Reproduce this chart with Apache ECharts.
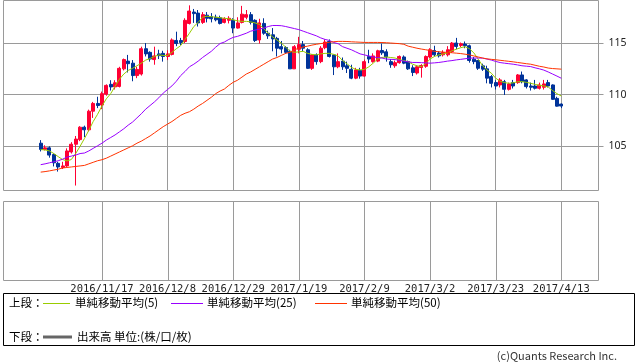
<!DOCTYPE html>
<html><head><meta charset="utf-8">
<script src="https://cdn.jsdelivr.net/npm/echarts@6/dist/echarts.min.js"></script>
<style>html,body{margin:0;padding:0;background:#fff}#c{width:638px;height:362px}</style>
</head><body><div id="c"></div>
<script>
const dates = ['2016/10/28',
'2016/10/31','2016/11/1','2016/11/2','2016/11/3','2016/11/4',
'2016/11/7','2016/11/8','2016/11/9','2016/11/10','2016/11/11',
'2016/11/14','2016/11/15','2016/11/16','2016/11/17','2016/11/18',
'2016/11/21','2016/11/22','2016/11/23','2016/11/24','2016/11/25',
'2016/11/28','2016/11/29','2016/11/30','2016/12/1','2016/12/2',
'2016/12/5','2016/12/6','2016/12/7','2016/12/8','2016/12/9',
'2016/12/12','2016/12/13','2016/12/14','2016/12/15','2016/12/16',
'2016/12/19','2016/12/20','2016/12/21','2016/12/22','2016/12/23',
'2016/12/26','2016/12/27','2016/12/28','2016/12/29','2016/12/30',
'2017/1/2','2017/1/3','2017/1/4','2017/1/5','2017/1/6',
'2017/1/9','2017/1/10','2017/1/11','2017/1/12','2017/1/13',
'2017/1/16','2017/1/17','2017/1/18','2017/1/19','2017/1/20',
'2017/1/23','2017/1/24','2017/1/25','2017/1/26','2017/1/27',
'2017/1/30','2017/1/31','2017/2/1','2017/2/2','2017/2/3',
'2017/2/6','2017/2/7','2017/2/8','2017/2/9','2017/2/10',
'2017/2/13','2017/2/14','2017/2/15','2017/2/16','2017/2/17',
'2017/2/20','2017/2/21','2017/2/22','2017/2/23','2017/2/24',
'2017/2/27','2017/2/28','2017/3/1','2017/3/2','2017/3/3',
'2017/3/6','2017/3/7','2017/3/8','2017/3/9','2017/3/10',
'2017/3/13','2017/3/14','2017/3/15','2017/3/16','2017/3/17',
'2017/3/20','2017/3/21','2017/3/22','2017/3/23','2017/3/24',
'2017/3/27','2017/3/28','2017/3/29','2017/3/30','2017/3/31',
'2017/4/3','2017/4/4','2017/4/5','2017/4/6','2017/4/7',
'2017/4/10','2017/4/11','2017/4/12','2017/4/13'];

const tickDates = ['2016/11/17','2016/12/8','2016/12/29','2017/1/19','2017/2/9','2017/3/2','2017/3/23','2017/4/13'];
const yTicks = [105, 110, 115];

const opens = [105.3,104.7,104.85,104.2,103.35,102.95,103.1,104.45,105.2,105.65,
106.85,106.6,108.4,109.15,109.0,110.05,111.0,110.75,110.8,112.5,
113.25,113.05,111.85,112.0,114.45,114.1,113.4,113.95,114.0,113.7,
113.9,115.25,115.25,115.15,116.9,118.0,117.9,117.0,117.7,117.55,
117.5,117.45,117.0,117.2,117.2,116.45,117.0,117.5,117.75,117.2,
115.3,116.9,115.95,115.8,115.45,114.65,114.57,114.2,112.5,114.4,
114.85,114.35,112.55,113.85,113.2,114.55,115.15,113.85,112.7,113.25,
112.8,112.45,111.6,112.35,111.8,113.7,113.2,113.25,114.28,114.15,
113.2,112.8,113.1,113.65,113.2,112.6,112.1,112.63,112.75,113.65,
114.28,114.03,113.86,113.86,114.18,115.0,114.77,114.9,114.74,113.44,
113.31,112.79,112.5,111.75,111.17,110.94,111.26,110.52,111.17,111.17,
111.91,111.43,110.84,110.84,110.62,110.72,111.17,110.94,109.64,109.09];

const closes = [104.7,104.85,104.15,103.4,103.0,103.1,104.55,105.2,105.7,106.85,
106.6,108.4,109.15,108.95,110.1,110.9,110.75,111.15,112.55,113.4,
113.0,111.85,112.45,114.45,113.95,113.45,113.75,113.78,113.7,113.95,
115.3,114.95,115.05,117.2,118.1,117.85,116.95,117.75,117.4,117.35,
117.25,116.9,117.35,117.4,116.45,116.95,117.8,117.75,117.0,115.25,
116.95,115.95,115.7,115.4,114.5,114.42,114.1,112.5,114.65,114.85,
114.5,112.55,113.85,113.2,114.5,115.1,113.7,112.7,113.2,112.7,
112.55,111.6,112.4,111.8,113.2,113.45,113.75,114.25,114.05,113.65,
112.9,113.1,113.7,113.05,112.5,112.15,112.7,112.82,113.7,114.35,
113.86,113.76,114.09,114.35,115.0,114.67,114.93,114.74,113.31,113.2,
112.56,112.47,111.6,111.1,110.84,111.43,110.52,111.04,110.84,111.91,
111.26,110.78,110.72,110.62,110.94,111.04,110.84,109.55,108.89,108.9];

const lows = [104.5,104.6,103.9,103.05,102.55,102.8,103.0,104.3,101.2,105.5,
105.9,106.45,107.75,108.7,108.6,109.9,110.4,110.5,110.7,112.35,
112.15,111.3,111.6,111.85,113.7,113.2,112.9,113.45,113.2,113.35,
113.8,114.7,114.8,115.0,116.8,116.95,116.6,116.85,117.0,117.0,
117.1,116.8,116.9,116.9,115.95,116.4,116.9,117.3,116.8,115.1,
114.95,115.8,115.4,114.2,113.7,114.0,113.95,112.5,112.5,114.0,
114.2,112.5,112.4,112.9,113.05,114.4,113.6,111.9,112.56,112.4,
112.1,111.5,111.5,111.55,111.75,113.05,113.1,113.15,113.85,113.2,
112.6,112.6,113.0,112.95,112.4,111.8,111.95,111.65,112.6,113.5,
113.7,113.6,113.7,113.7,114.05,114.4,114.6,114.5,113.1,112.95,
112.4,112.3,111.1,110.7,110.5,110.7,109.97,110.4,110.6,111.05,
111.1,110.6,110.4,110.5,110.5,110.5,110.7,109.5,108.85,108.7];

const highs = [105.6,105.1,105.0,104.3,103.5,103.5,104.8,105.4,106.0,106.95,
107.0,108.55,109.3,109.8,110.3,111.0,111.4,111.4,112.7,113.5,
113.85,113.35,112.7,114.65,115.0,114.2,114.65,114.35,114.25,114.3,
115.45,116.1,115.5,117.4,118.65,118.3,118.2,118.0,118.0,117.9,
117.75,117.65,117.5,117.6,117.4,117.5,118.6,118.2,118.0,117.3,
117.35,117.4,116.2,116.45,115.6,115.2,114.7,114.35,114.8,115.6,
115.2,114.5,113.9,114.0,114.7,115.35,115.35,113.85,114.0,113.6,
113.2,112.9,112.6,112.6,113.4,114.35,114.0,114.35,114.95,114.4,
113.45,113.3,113.8,113.8,113.3,112.85,112.85,112.95,113.8,114.5,
114.74,114.2,114.3,114.7,115.1,115.5,115.05,115.15,114.85,113.65,
113.37,113.0,112.8,111.9,111.4,111.6,111.43,111.17,111.43,112.0,
112.24,111.5,111.17,111.43,111.17,111.43,111.43,111.0,109.8,109.15];

const ma5 = [104.68,104.65,104.55,104.3,104.0,103.72,103.58,103.72,104.3,105.0,
105.75,106.55,107.4,108.1,108.9,109.6,110.1,110.8,111.5,112.0,
112.35,112.55,112.8,113.05,113.35,113.5,113.7,113.85,113.8,113.8,
114.1,114.45,114.75,115.35,115.95,116.6,117.0,117.5,117.6,117.55,
117.5,117.45,117.4,117.35,117.25,117.15,117.1,117.1,117.05,116.95,
116.8,116.4,115.95,115.6,115.3,115.0,114.6,114.2,114.1,114.15,
114.2,114.0,113.9,113.85,113.95,114.0,114.0,113.9,113.75,113.3,
113.0,112.65,112.45,112.4,112.45,112.7,113.05,113.45,113.6,113.65,
113.6,113.55,113.4,113.3,113.2,112.95,112.8,112.72,113.0,113.45,
113.7,113.85,113.95,114.05,114.25,114.4,114.55,114.65,114.45,114.05,
113.45,112.8,112.4,112.08,111.6,111.3,111.17,111.1,111.15,111.25,
111.26,111.2,111.1,111.0,110.9,110.85,110.75,110.4,110.1,109.87];

const ma25 = [103.22,103.3,103.4,103.5,103.6,103.75,103.95,104.05,104.15,104.3,
104.35,104.55,104.8,105.05,105.3,105.6,105.85,106.1,106.4,106.7,
107.05,107.35,107.75,108.15,108.6,108.95,109.3,109.7,110.15,110.5,
110.85,111.3,111.85,112.25,112.7,112.95,113.25,113.6,113.9,114.2,
114.6,114.95,115.1,115.35,115.55,115.65,115.8,115.95,116.15,116.25,
116.35,116.45,116.6,116.7,116.7,116.68,116.6,116.5,116.4,116.3,
116.15,116.0,115.85,115.7,115.5,115.35,115.25,115.05,114.93,114.65,
114.5,114.35,114.15,113.95,113.85,113.75,113.65,113.6,113.55,113.45,
113.42,113.4,113.32,113.25,113.18,113.12,113.12,113.1,113.08,113.05,
113.08,113.12,113.18,113.25,113.3,113.37,113.42,113.48,113.54,113.55,
113.55,113.54,113.45,113.35,113.22,113.11,113.05,113.0,112.95,112.88,
112.8,112.76,112.72,112.6,112.5,112.38,112.2,112.0,111.8,111.59];

const ma50 = [102.5,102.55,102.62,102.7,102.78,102.9,102.95,103.0,103.05,103.1,
103.15,103.3,103.45,103.6,103.7,103.85,104.05,104.25,104.45,104.65,
104.85,105.05,105.3,105.5,105.75,106.0,106.3,106.6,106.9,107.15,
107.4,107.7,108.0,108.2,108.35,108.6,108.9,109.15,109.45,109.75,
110.1,110.35,110.55,110.9,111.2,111.4,111.7,112.0,112.2,112.45,
112.7,112.95,113.2,113.45,113.6,113.8,114.0,114.1,114.35,114.5,
114.62,114.7,114.8,114.88,114.95,115.0,115.08,115.13,115.16,115.16,
115.15,115.12,115.1,115.08,115.06,115.06,115.06,115.06,115.05,115.03,
115.0,114.97,114.94,114.88,114.7,114.6,114.5,114.42,114.35,114.28,
114.2,114.16,114.12,114.09,114.06,114.02,113.98,113.92,113.85,113.75,
113.65,113.55,113.47,113.42,113.38,113.33,113.28,113.23,113.18,113.12,
113.06,113.0,112.95,112.85,112.75,112.68,112.58,112.53,112.5,112.47];

const volume = []; // 出来高: no values shown in the lower panel

const PAD = 8;
const cats = [];
for (let k = 0; k < PAD; k++) cats.push('pre' + k);
dates.forEach(d => cats.push(d));
for (let k = 0; k < PAD; k++) cats.push('post' + k);

const candle = dates.map((d, i) => [i + PAD, opens[i], closes[i], lows[i], highs[i]]);
const asLine = arr => arr.map((v, i) => [i + PAD, v]);

const GRID_COLOR = '#9a9a9a';
const C_MA5 = '#99cc00', C_MA25 = '#9900ff', C_MA50 = '#ff3300';
const C_UP = '#ff0033', C_DOWN = '#003399';
const JP = '"Noto Sans CJK JP"';
const UPPER = { left: 3.5, top: 0.5, width: 595, height: 190 };
const LOWER = { left: 3.5, top: 201.5, width: 595, height: 79 };
const isTick = (idx, val) => tickDates.includes(val);

const legendGraphic = [
  { type: 'rect', silent: true, shape: { x: 3.5, y: 293.5, width: 631, height: 52 },
    style: { fill: '#fff', stroke: '#000', lineWidth: 1 } },
  { type: 'text', x: 9, y: 303, style: { text: '上段：', font: '11.5px ' + JP, fill: '#000', textVerticalAlign: 'middle' } },
  { type: 'line', shape: { x1: 43, y1: 303.5, x2: 70, y2: 303.5 }, style: { stroke: C_MA5, lineWidth: 1 } },
  { type: 'text', x: 75, y: 303, style: { text: '単純移動平均(5)', font: '11.5px ' + JP, fill: '#000', textVerticalAlign: 'middle' } },
  { type: 'line', shape: { x1: 171, y1: 303.5, x2: 203, y2: 303.5 }, style: { stroke: C_MA25, lineWidth: 1 } },
  { type: 'text', x: 207, y: 303, style: { text: '単純移動平均(25)', font: '11.5px ' + JP, fill: '#000', textVerticalAlign: 'middle' } },
  { type: 'line', shape: { x1: 315, y1: 303.5, x2: 347, y2: 303.5 }, style: { stroke: C_MA50, lineWidth: 1 } },
  { type: 'text', x: 351, y: 303, style: { text: '単純移動平均(50)', font: '11.5px ' + JP, fill: '#000', textVerticalAlign: 'middle' } },
  { type: 'text', x: 9, y: 337, style: { text: '下段：', font: '11.5px ' + JP, fill: '#000', textVerticalAlign: 'middle' } },
  { type: 'line', shape: { x1: 43, y1: 337, x2: 72, y2: 337 }, style: { stroke: '#666', lineWidth: 3 } },
  { type: 'text', x: 77, y: 337, style: { text: '出来高 単位:(株/口/枚)', font: '11.5px ' + JP, fill: '#000', textVerticalAlign: 'middle' } },
  { type: 'text', x: 617, y: 356, style: { text: '(c)Quants Research Inc.', font: '11px ' + JP, fill: '#333', textAlign: 'right', textVerticalAlign: 'middle' } }
];

const chart = echarts.init(document.getElementById('c'), null, { renderer: 'canvas' });
chart.setOption({
  animation: false,
  backgroundColor: '#fff',
  grid: [
    Object.assign({ show: true, borderColor: GRID_COLOR, borderWidth: 1 }, UPPER),
    Object.assign({ show: true, borderColor: GRID_COLOR, borderWidth: 1 }, LOWER)
  ],
  xAxis: [
    { type: 'category', gridIndex: 0, data: cats, boundaryGap: true,
      axisLine: { show: false }, axisTick: { show: false, interval: isTick, alignWithLabel: true },
      axisLabel: { show: false, interval: isTick },
      splitLine: { show: true, interval: isTick, alignWithLabel: true, lineStyle: { color: GRID_COLOR, width: 1 } } },
    { type: 'category', gridIndex: 1, data: cats, boundaryGap: true,
      axisLine: { show: false }, axisTick: { show: false }, splitLine: { show: false },
      axisLabel: { interval: isTick, color: '#222', fontSize: 10.5,
        fontFamily: '"DejaVu Sans Mono"', margin: 3, hideOverlap: false } }
  ],
  yAxis: [
    { type: 'value', gridIndex: 0, position: 'right', min: 100.72, max: 119.12,
      splitNumber: 4, minInterval: 5, maxInterval: 5,
      axisLine: { show: false },
      axisTick: { show: true, length: 5, lineStyle: { color: GRID_COLOR }, customValues: yTicks },
      axisLabel: { customValues: yTicks, color: '#222', fontSize: 10.5, fontFamily: '"Noto Sans"', margin: 10 },
      splitLine: { show: true, lineStyle: { color: GRID_COLOR, width: 1 } } },
    { type: 'value', gridIndex: 1, min: 0, max: 1, show: false }
  ],
  series: [
    { type: 'candlestick', name: 'price', xAxisIndex: 0, yAxisIndex: 0, data: candle, z: 2,
      encode: { x: 0, y: [1, 2, 3, 4] }, barWidth: 3.5,
      itemStyle: { color: C_UP, color0: C_DOWN, borderColor: C_UP, borderColor0: C_DOWN, borderWidth: 1 } },
    { type: 'line', name: '単純移動平均(5)', data: asLine(ma5), symbol: 'none', z: 3,
      lineStyle: { color: C_MA5, width: 1 }, itemStyle: { color: C_MA5 } },
    { type: 'line', name: '単純移動平均(25)', data: asLine(ma25), symbol: 'none', z: 3,
      lineStyle: { color: C_MA25, width: 1 }, itemStyle: { color: C_MA25 } },
    { type: 'line', name: '単純移動平均(50)', data: asLine(ma50), symbol: 'none', z: 3,
      lineStyle: { color: C_MA50, width: 1 }, itemStyle: { color: C_MA50 } },
    { type: 'bar', name: '出来高', xAxisIndex: 1, yAxisIndex: 1, data: volume, itemStyle: { color: '#666' } }
  ],
  graphic: legendGraphic
});

// vertical grid lines of the lower panel at the labelled dates, placed via the category axis
const gridLines = [];
tickDates.forEach(d => {
  const px = chart.convertToPixel({ xAxisIndex: 1 }, d);
  const x = Math.round(Array.isArray(px) ? px[0] : px) + 0.5;
  gridLines.push({ type: 'line', silent: true, z: 1,
    shape: { x1: x, y1: LOWER.top, x2: x, y2: LOWER.top + LOWER.height },
    style: { stroke: GRID_COLOR, lineWidth: 1 } });
});
chart.setOption({ graphic: legendGraphic.concat(gridLines) });
</script></body></html>
